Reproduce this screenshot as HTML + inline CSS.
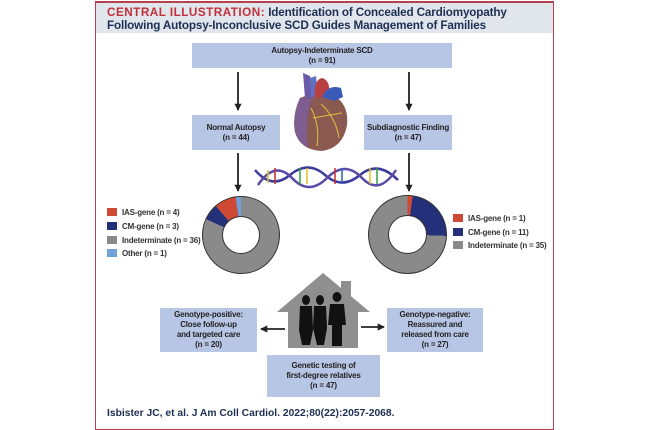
<!DOCTYPE html>
<html><head><meta charset="utf-8"><style>
body{margin:0;width:650px;height:430px;background:#fff;overflow:hidden;font-family:"Liberation Sans",sans-serif;}
.p{position:absolute;left:95px;top:1px;width:457px;height:426px;border:1.5px solid #b5404e;border-top:2px solid #b5404e;}
.hd{position:absolute;left:96px;top:3px;width:457px;height:30px;background:#e1e5ec;}
.t{position:absolute;left:107px;font-size:11.7px;font-weight:bold;color:#1d2f52;white-space:nowrap;letter-spacing:-0.15px}
.b{position:absolute;background:#b8c6e6;color:#222;font-size:8px;font-weight:bold;text-align:center;display:flex;align-items:center;justify-content:center;line-height:10px;letter-spacing:-0.2px}
.lg{position:absolute;font-size:8px;font-weight:bold;color:#333;white-space:nowrap;letter-spacing:-0.2px}
.sq{display:inline-block;width:10px;height:8px;vertical-align:-1px;margin-right:5px}
</style></head><body>
<div class="p"></div>
<div class="hd"></div>
<div class="t" style="top:6px"><span style="color:#c0303a;letter-spacing:0.5px">CENTRAL ILLUSTRATION:</span> Identification of Concealed Cardiomyopathy</div>
<div class="t" style="top:19px">Following Autopsy-Inconclusive SCD Guides Management of Families</div>

<div class="b" style="left:192px;top:43px;width:260px;height:25px">Autopsy-Indeterminate SCD<br>(n = 91)</div>
<div class="b" style="left:192px;top:115px;width:88px;height:35px">Normal Autopsy<br>(n = 44)</div>
<div class="b" style="left:364px;top:115px;width:88px;height:35px">Subdiagnostic Finding<br>(n = 47)</div>

<svg style="position:absolute;left:0;top:0" width="650" height="430">
<defs><marker id="a" markerWidth="4" markerHeight="4" refX="3.5" refY="2" orient="auto"><path d="M0,0L4,2L0,4z" fill="#222"/></marker></defs>
<g stroke="#222" stroke-width="1.8" marker-end="url(#a)">
<line x1="238" y1="72" x2="238" y2="110"/><line x1="409" y1="72" x2="409" y2="110"/>
<line x1="238" y1="153" x2="238" y2="191"/><line x1="409" y1="153" x2="409" y2="191"/>
<line x1="285" y1="329" x2="261" y2="329"/><line x1="361" y1="327" x2="384" y2="327"/>
</g>
<!-- heart -->
<path d="M300,98 Q292,115 295,132 Q300,150 322,151 Q343,148 347,125 Q349,106 336,97 Q318,90 300,98z" fill="#8a5a50"/>
<path d="M300,98 Q292,115 295,132 Q298,142 308,148 Q304,120 312,99z" fill="#7e5d90"/>
<path d="M303,73 L305,98 L313,99 L310,76z" fill="#6a5aa8"/>
<path d="M310,78 L316,76 L318,96 L311,97z" fill="#6070c0"/>
<path d="M315,98 Q313,80 322,78 Q331,80 329,97z" fill="#b84040"/>
<path d="M322,97 Q328,84 341,88 L343,97 L334,101z" fill="#3a5ab8"/>
<path d="M311,108 Q320,125 317,146 M321,104 Q336,118 339,138 M313,118 Q330,115 342,113" stroke="#e0c040" stroke-width="1" fill="none"/>
<!-- dna -->
<g fill="none" stroke-width="2.5">
<path d="M255,170 Q272,190 290,175 T325,175 T360,175 T398,180" stroke="#3a3a9a"/>
<path d="M258,185 Q275,160 292,178 T327,178 T362,178 T396,170" stroke="#5a4aa8"/>
</g>
<g stroke-width="1.5">
<line x1="268" y1="170" x2="268" y2="183" stroke="#e0c020"/><line x1="275" y1="168" x2="275" y2="184" stroke="#c03030"/>
<line x1="300" y1="168" x2="300" y2="184" stroke="#30a040"/><line x1="307" y1="168" x2="307" y2="184" stroke="#e0c020"/>
<line x1="335" y1="168" x2="335" y2="184" stroke="#c03030"/><line x1="342" y1="168" x2="342" y2="184" stroke="#3060c0"/>
<line x1="370" y1="168" x2="370" y2="184" stroke="#e0c020"/><line x1="377" y1="168" x2="377" y2="184" stroke="#30a040"/>
</g>
<!-- house -->
<path d="M323,273 L370,312 L358,312 L358,348 L288,348 L288,312 L277,312z" fill="#8f8f8f"/>
<rect x="341" y="281" width="10" height="20" fill="#8f8f8f"/>
<g fill="#111">
<ellipse cx="306" cy="300" rx="4" ry="5"/><path d="M300,306 L312,306 L313,330 L310,345 L302,345 L299,330z"/>
<ellipse cx="320" cy="300" rx="4" ry="5"/><path d="M314,306 L326,306 L327,328 L324,345 L317,345 L313,328z"/>
<ellipse cx="337" cy="297" rx="4.5" ry="5"/><path d="M330,304 L344,304 L346,325 L342,325 L342,346 L332,346 L332,325 L328,325z"/>
</g>
</svg>

<div style="position:absolute;left:202px;top:196px;width:76px;height:76px;border-radius:50%;border:1px solid #333;background:conic-gradient(#8a8a8a 0 294.5deg,#25307a 294.5deg 319deg,#cf4a34 319deg 352deg,#6fa0dc 352deg 360deg)"></div>
<div style="position:absolute;left:222px;top:216px;width:36px;height:36px;border-radius:50%;border:1px solid #333;background:#fff"></div>
<div style="position:absolute;left:368px;top:195px;width:77px;height:77px;border-radius:50%;border:1px solid #333;background:conic-gradient(#cf4a34 0 7.7deg,#25307a 7.7deg 92deg,#8a8a8a 92deg 360deg)"></div>
<div style="position:absolute;left:388px;top:215px;width:37px;height:37px;border-radius:50%;border:1px solid #333;background:#fff"></div>

<div class="lg" style="left:107px;top:208px"><span class="sq" style="background:#cf4a34"></span>IAS-gene (n = 4)</div>
<div class="lg" style="left:107px;top:222px"><span class="sq" style="background:#25307a"></span>CM-gene (n = 3)</div>
<div class="lg" style="left:107px;top:236px"><span class="sq" style="background:#8a8a8a"></span>Indeterminate (n = 36)</div>
<div class="lg" style="left:107px;top:249px"><span class="sq" style="background:#6fa0dc"></span>Other (n = 1)</div>
<div class="lg" style="left:453px;top:214px"><span class="sq" style="background:#cf4a34"></span>IAS-gene (n = 1)</div>
<div class="lg" style="left:453px;top:228px"><span class="sq" style="background:#25307a"></span>CM-gene (n = 11)</div>
<div class="lg" style="left:453px;top:241px"><span class="sq" style="background:#8a8a8a"></span>Indeterminate (n = 35)</div>

<div class="b" style="left:160px;top:308px;width:97px;height:44px">Genotype-positive:<br>Close follow-up<br>and targeted care<br>(n = 20)</div>
<div class="b" style="left:387px;top:308px;width:96px;height:44px">Genotype-negative:<br>Reassured and<br>released from care<br>(n = 27)</div>
<div class="b" style="left:267px;top:355px;width:113px;height:42px">Genetic testing of<br>first-degree relatives<br>(n = 47)</div>

<div style="position:absolute;left:107px;top:408px;font-size:10.3px;font-weight:bold;color:#1d2f52;white-space:nowrap">Isbister JC, et al. J Am Coll Cardiol. 2022;80(22):2057-2068.</div>
</body></html>
